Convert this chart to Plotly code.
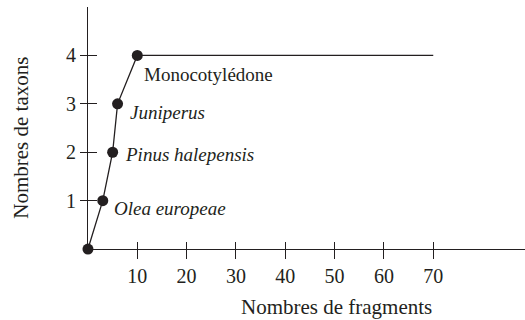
import plotly.graph_objects as go

# Cumulative taxa count against number of charcoal fragments examined
fragments = [0, 3, 5, 6, 10, 70]
taxa = [0, 1, 2, 3, 4, 4]
taxon_names = ["", "<i>Olea europeae</i>", "<i>Pinus halepensis</i>", "<i>Juniperus</i>", "Monocotylédone"]
x_ticks = [10, 20, 30, 40, 50, 60, 70]
y_ticks = [1, 2, 3, 4]
x_title = "Nombres de fragments"
y_title = "Nombres de taxons"

INK = "#231f20"
FONT = "Liberation Serif"

fig = go.Figure()

# curve continues flat after the last new taxon
fig.add_trace(go.Scatter(
    x=fragments, y=taxa, mode="lines",
    line=dict(color=INK, width=1.3),
    cliponaxis=False, showlegend=False, hoverinfo="skip",
))
# one dot per newly recorded taxon (plus the origin)
n_pts = len(taxon_names)
fig.add_trace(go.Scatter(
    x=fragments[:n_pts], y=taxa[:n_pts], mode="markers",
    marker=dict(color=INK, size=11),
    cliponaxis=False, showlegend=False, hoverinfo="skip",
))

# label offsets in pixels (dx, dy) relative to each dot
offsets = [None, (9, -8), (10, -2), (10, -9), (5, -19)]
for i in range(1, n_pts):
    dx, dy = offsets[i]
    fig.add_annotation(
        x=fragments[i], y=taxa[i], text=taxon_names[i],
        showarrow=False, xanchor="left", yanchor="middle",
        xshift=dx, yshift=dy,
        font=dict(family=FONT, size=19, color=INK),
    )

# axis titles, placed off-centre
title_font = dict(family=FONT, size=21, color=INK)
fig.add_annotation(text=x_title, xref="paper", yref="paper", x=0.57, y=-0.23,
                   showarrow=False, xanchor="center", yanchor="middle", font=title_font)
fig.add_annotation(text=y_title, xref="paper", yref="paper", x=-0.15, y=0.465,
                   showarrow=False, xanchor="center", yanchor="middle", textangle=-90,
                   font=title_font)

tfont = dict(family=FONT, size=20, color=INK)
# axis lines come from the zero lines; the tick axes sit slightly inside the plot
# so their long outside ticks straddle those lines
axis_style = dict(showgrid=False, showline=False, zeroline=True,
                  zerolinecolor=INK, zerolinewidth=1.3,
                  ticks="outside", tickcolor=INK, tickwidth=1.3, ticklen=17,
                  tickfont=tfont, anchor="free")

fig.update_layout(
    template="none",
    width=525, height=320,
    margin=dict(l=86, r=0, t=7, b=69),
    paper_bgcolor="white", plot_bgcolor="white",
    font=dict(family=FONT, size=20, color=INK),
    xaxis=dict(range=[-0.4, 88.6], tickvals=x_ticks, position=0.041, **axis_style),
    yaxis=dict(range=[-0.04, 5.0], tickvals=y_ticks, position=0.025, **axis_style),
)

fig.write_html("out.html")
